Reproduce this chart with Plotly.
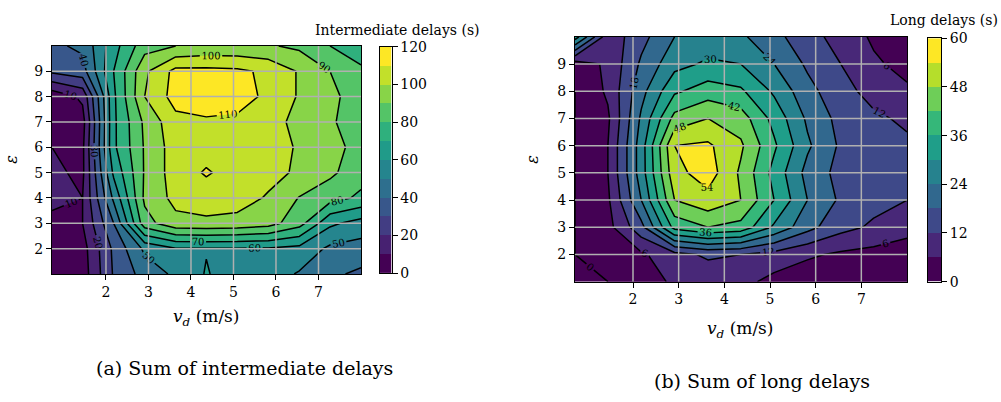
import plotly.graph_objects as go
from plotly.colors import sample_colorscale

# Grid of the parameter sweep
V_D = [0.73, 1.45, 2.18, 2.91, 3.64, 4.36, 5.09, 5.82, 6.55, 7.27, 8.0]
EPS = [1, 2, 3, 4, 5, 6, 7, 8, 9, 10]

# Sum of intermediate delays (s), one row per epsilon value
INTER = [
    [3, 5, 31, 44, 52, 60.7, 55, 55, 49, 42, 38],
    [4, 6, 32, 52, 59.5, 59.5, 59.5, 59, 57, 48, 46],
    [8, 10, 40, 86, 97, 98, 97, 94, 84, 62, 56],
    [12, 10, 52, 92, 103, 105, 104, 99, 89.5, 84, 78],
    [12, 8, 62, 91, 105, 111, 106, 103, 98.5, 92, 84],
    [10, 8, 68, 91, 105, 106, 105, 104, 99, 93, 87],
    [8, 6, 68, 92, 107, 109, 108, 104, 97, 91, 86],
    [3, 12, 68, 100, 114, 114, 114, 108, 99, 92, 86],
    [32, 36, 70, 98, 113, 113, 112, 108, 99, 90, 82],
    [38, 42, 66, 86, 90, 92, 92, 91, 88, 80, 74],
]

# Sum of long delays (s), one row per epsilon value
LONG = [
    [0, 0, 3, 7, 8, 8, 4, 2, 1, 0.5, 0.5],
    [0, 2, 5, 10, 13, 12, 10, 7, 5, 4, 3],
    [0, 4, 16, 38, 42, 40, 29, 20, 14, 11, 8],
    [0, 5, 24, 48, 52, 48, 36, 24, 17, 14, 12],
    [0, 6, 27, 52, 57, 47, 34, 22, 16, 14, 13],
    [0, 6, 27, 54, 55, 49, 37, 25, 17, 14, 13],
    [0, 5, 25, 44, 48, 45, 34, 23, 16, 13, 11],
    [0, 7, 22, 35, 39, 37, 29, 20, 14, 10, 7],
    [3, 7, 19, 28, 31, 30, 24, 17, 12, 7, 4],
    [33, 8, 16, 24, 26, 25, 20, 14, 10, 5, 3],
]

INTER_LEVELS = (0, 120, 10)
LONG_LEVELS = (0, 60, 6)
X_TICKS = [2, 3, 4, 5, 6, 7]
Y_TICKS = [2, 3, 4, 5, 6, 7, 8, 9]
INTER_CB_TICKS = [0, 20, 40, 60, 80, 100, 120]
LONG_CB_TICKS = [0, 12, 24, 36, 48, 60]

FONT = "DejaVu Serif"
W, H = 1001, 402


def band_colors(levels):
    start, end, size = levels
    n = round((end - start) / size)
    return sample_colorscale("Viridis", [k / (n - 1) for k in range(n)])


def contour_fill_scale(levels):
    # plotly maps fill colours over [start - size, end]; one flat step per band
    start, end, size = levels
    cols = band_colors(levels)
    lo = start - size
    span = end - lo
    scale = []
    for k, c in enumerate(cols):
        a = 0.0 if k == 0 else (k + 1) * size / span
        b = (k + 2) * size / span
        scale += [[a, c], [min(b, 1.0), c]]
    return scale


def bar_scale(levels):
    cols = band_colors(levels)
    n = len(cols)
    scale = []
    for k, c in enumerate(cols):
        scale += [[k / n, c], [(k + 1) / n, c]]
    return scale


def px_dom(a, b, total):
    return [a / total, b / total]


def py_dom(top, bottom):
    return [1 - bottom / H, 1 - top / H]


fig = go.Figure()

panels = [
    dict(z=INTER, levels=INTER_LEVELS, xa="x", ya="y"),
    dict(z=LONG, levels=LONG_LEVELS, xa="x2", ya="y2"),
]

for p in panels:
    start, end, size = p["levels"]
    fig.add_trace(go.Contour(
        x=V_D, y=EPS, z=p["z"], xaxis=p["xa"], yaxis=p["ya"],
        autocontour=False,
        contours=dict(start=start, end=end, size=size, coloring="fill"),
        colorscale=contour_fill_scale(p["levels"]),
        line=dict(width=0, smoothing=0), showscale=False, hoverinfo="skip",
    ))
    # grid drawn above the filled bands, below the contour lines
    gx, gy = [], []
    for t in X_TICKS:
        gx += [t, t, None]
        gy += [EPS[0], EPS[-1], None]
    for t in Y_TICKS:
        gx += [V_D[0], V_D[-1], None]
        gy += [t, t, None]
    fig.add_trace(go.Scatter(
        x=gx, y=gy, mode="lines", xaxis=p["xa"], yaxis=p["ya"],
        line=dict(color="#b0b0b0", width=1.5), hoverinfo="skip", showlegend=False,
    ))
    fig.add_trace(go.Contour(
        x=V_D, y=EPS, z=p["z"], xaxis=p["xa"], yaxis=p["ya"],
        autocontour=False,
        contours=dict(start=start, end=end, size=size, coloring="none",
                      showlabels=True,
                      labelfont=dict(family=FONT, size=10, color="black")),
        line=dict(color="black", width=1.5, smoothing=0),
        showscale=False, hoverinfo="skip",
    ))

# colour bars as stacked bands
bars = [
    dict(levels=INTER_LEVELS, xa="x3", ya="y3"),
    dict(levels=LONG_LEVELS, xa="x4", ya="y4"),
]
for b in bars:
    start, end, size = b["levels"]
    edges = [start + k * size for k in range(round((end - start) / size) + 1)]
    mids = [[(edges[k] + edges[k + 1]) / 2] for k in range(len(edges) - 1)]
    fig.add_trace(go.Heatmap(
        x=[0, 1], y=edges, z=mids, xaxis=b["xa"], yaxis=b["ya"],
        zmin=start, zmax=end, colorscale=bar_scale(b["levels"]),
        showscale=False, hoverinfo="skip",
    ))

tickfont = dict(family=FONT, size=14, color="black")
frame = dict(showline=True, mirror=True, linecolor="black", linewidth=1,
             showgrid=False, zeroline=False, ticks="outside", ticklen=5,
             tickwidth=1, tickcolor="black", tickfont=tickfont)

fig.update_layout(
    width=W, height=H, margin=dict(l=0, r=0, t=0, b=0),
    paper_bgcolor="white", plot_bgcolor="white", showlegend=False,
    font=dict(family=FONT, color="black"),
    xaxis=dict(domain=px_dom(52, 361, W), range=[V_D[0], V_D[-1]],
               tickvals=X_TICKS, anchor="y", **frame),
    yaxis=dict(domain=py_dom(39.5, 277), range=[EPS[0], EPS[-1]],
               tickvals=Y_TICKS, anchor="x", **frame),
    xaxis2=dict(domain=px_dom(575, 907, W), range=[V_D[0], V_D[-1]],
                tickvals=X_TICKS, anchor="y2", **frame),
    yaxis2=dict(domain=py_dom(30, 285), range=[EPS[0], EPS[-1]],
                tickvals=Y_TICKS, anchor="x2", **frame),
    xaxis3=dict(domain=px_dom(379.5, 391.5, W), range=[0, 1], anchor="y3",
                showline=True, mirror=True, linecolor="black", linewidth=1,
                showticklabels=False, ticks="", showgrid=False, zeroline=False),
    yaxis3=dict(domain=py_dom(40.5, 276), range=[INTER_LEVELS[0], INTER_LEVELS[1]],
                tickvals=INTER_CB_TICKS, side="right", anchor="x3", **frame),
    xaxis4=dict(domain=px_dom(928, 941, W), range=[0, 1], anchor="y4",
                showline=True, mirror=True, linecolor="black", linewidth=1,
                showticklabels=False, ticks="", showgrid=False, zeroline=False),
    yaxis4=dict(domain=py_dom(31.5, 285), range=[LONG_LEVELS[0], LONG_LEVELS[1]],
                tickvals=LONG_CB_TICKS, side="right", anchor="x4", **frame),
)

texts = [
    # axis titles
    dict(x=206, y=322, text="<i>v</i><sub><i>d</i></sub> (m/s)", size=17, angle=0, anchor="center"),
    dict(x=740, y=335, text="<i>v</i><sub><i>d</i></sub> (m/s)", size=17, angle=0, anchor="center"),
    dict(x=12, y=158, text="<i>ε</i>", size=16, angle=-90, anchor="center"),
    dict(x=533, y=158, text="<i>ε</i>", size=16, angle=-90, anchor="center"),
    # colour bar titles
    dict(x=482, y=23, text="Intermediate delays (s)", size=14, angle=0, anchor="right"),
    dict(x=1000, y=13, text="Long delays (s)", size=14, angle=0, anchor="right"),
    # captions
    dict(x=244, y=375, text="(a) Sum of intermediate delays", size=19, angle=0, anchor="center"),
    dict(x=762, y=388, text="(b) Sum of long delays", size=19, angle=0, anchor="center"),
]
for t in texts:
    fig.add_annotation(
        xref="paper", yref="paper", x=t["x"] / W, y=1 - t["y"] / H,
        text=t["text"], showarrow=False, textangle=t["angle"],
        xanchor=t["anchor"], yanchor="middle",
        font=dict(family=FONT, size=t["size"], color="black"),
    )

fig.write_html("out.html")
